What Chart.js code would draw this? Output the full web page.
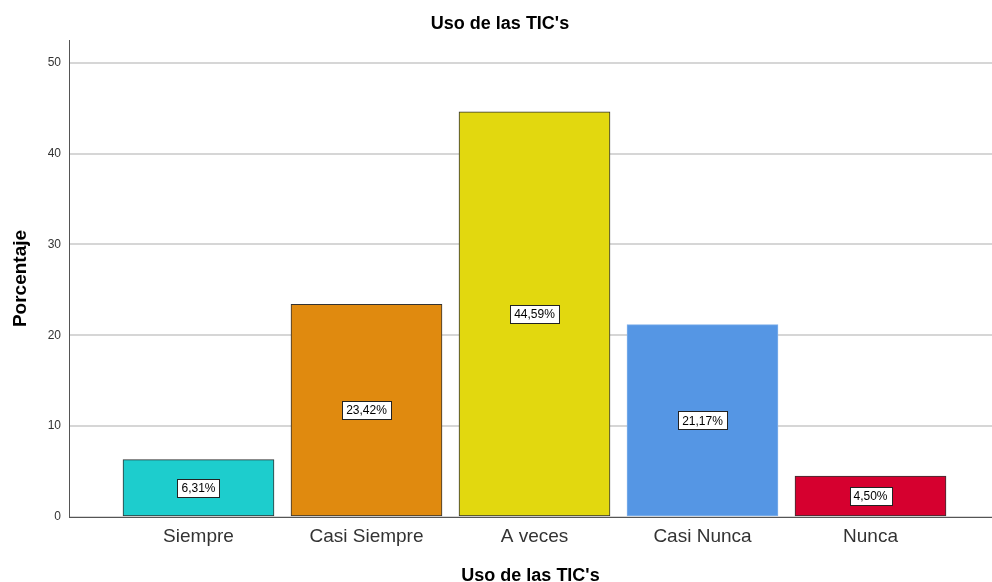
<!DOCTYPE html>
<html>
<head>
<meta charset="utf-8">
<script src="https://cdn.jsdelivr.net/npm/chart.js@4.4.0/dist/chart.umd.min.js"></script>
<style>
  body { margin: 0; background: #fff; }
  #chart { display: block; }
</style>
</head>
<body>
<canvas id="chart" width="992" height="582"></canvas>
<script>
const categories = ["Siempre", "Casi Siempre", "A veces", "Casi Nunca", "Nunca"];
const percentages = [6.31, 23.42, 44.59, 21.17, 4.50];
const barColors = ["#1dcdcd", "#e08a0f", "#e2d80f", "#5596e4", "#d6002f"];
const barBorders = ["#333333", "#333333", "#333333", "#7fb0ea", "#333333"];

const FONT = "'Liberation Sans', Arial, sans-serif";

function formatPct(v) {
  return v.toFixed(2).replace(".", ",") + "%";
}

// white boxed value label in the middle of each bar
const boxLabels = {
  id: "boxLabels",
  afterDatasetsDraw(chart) {
    const ctx = chart.ctx;
    const meta = chart.getDatasetMeta(0);
    ctx.save();
    ctx.font = "12px " + FONT;
    ctx.textAlign = "center";
    ctx.textBaseline = "middle";
    meta.data.forEach((bar, i) => {
      const text = formatPct(percentages[i]);
      const cx = bar.x;
      const cy = (bar.y + bar.base) / 2;
      const w = Math.round(ctx.measureText(text).width + 8);
      const h = 18;
      const x0 = Math.round(cx - w / 2) + 0.5;
      const y0 = Math.round(cy - h / 2) + 0.5;
      ctx.fillStyle = "#fff";
      ctx.fillRect(x0, y0, w, h);
      ctx.strokeStyle = "#222";
      ctx.lineWidth = 1;
      ctx.strokeRect(x0, y0, w, h);
      ctx.fillStyle = "#000";
      ctx.fillText(text, cx, cy + 1);
    });
    ctx.restore();
  }
};

new Chart(document.getElementById("chart").getContext("2d"), {
  type: "bar",
  data: {
    datasets: [{
      data: percentages.map((v, i) => ({ x: i, y: v })),
      backgroundColor: barColors,
      borderColor: barBorders,
      borderWidth: 1,
      borderSkipped: false,
      barThickness: 151
    }]
  },
  options: {
    responsive: false,
    devicePixelRatio: 1,
    animation: false,
    layout: { padding: { left: 8, right: 0, top: 0, bottom: 0 } },
    plugins: {
      legend: { display: false },
      tooltip: { enabled: false },
      title: {
        display: true,
        text: "Uso de las TIC's",
        color: "#000",
        font: { family: FONT, size: 18, weight: "bold", lineHeight: 1.2 },
        padding: { top: 13, bottom: 5.4 }
      }
    },
    scales: {
      x: {
        type: "linear",
        offset: false,
        min: -0.7708,
        max: 4.7232,
        grid: { display: false, drawTicks: false, offset: false },
        border: { display: true, color: "#555", width: 1 },
        ticks: {
          stepSize: 1,
          includeBounds: false,
          autoSkip: false,
          maxRotation: 0,
          padding: 8,
          color: "#333",
          font: { family: FONT, size: 19 },
          callback: v => categories[v] || ""
        },
        title: {
          display: true,
          text: "Uso de las TIC's",
          color: "#000",
          font: { family: FONT, size: 18, weight: "bold", lineHeight: 1 },
          padding: { top: 0, bottom: -3 }
        },
        afterFit: scale => { scale.height = 65; }
      },
      y: {
        min: 0,
        max: 52.5,
        grid: { color: "#d6d6d6", lineWidth: 2, drawTicks: false },
        border: { display: true, color: "#555", width: 1 },
        ticks: {
          stepSize: 10,
          includeBounds: false,
          padding: 8,
          color: "#333",
          font: { family: FONT, size: 12 }
        },
        title: {
          display: true,
          text: "Porcentaje",
          color: "#000",
          font: { family: FONT, size: 19, weight: "bold", lineHeight: 1 },
          padding: { top: 3, bottom: 0 }
        },
        afterFit: scale => { scale.width = 61; }
      }
    }
  },
  plugins: [boxLabels]
});
</script>
</body>
</html>
